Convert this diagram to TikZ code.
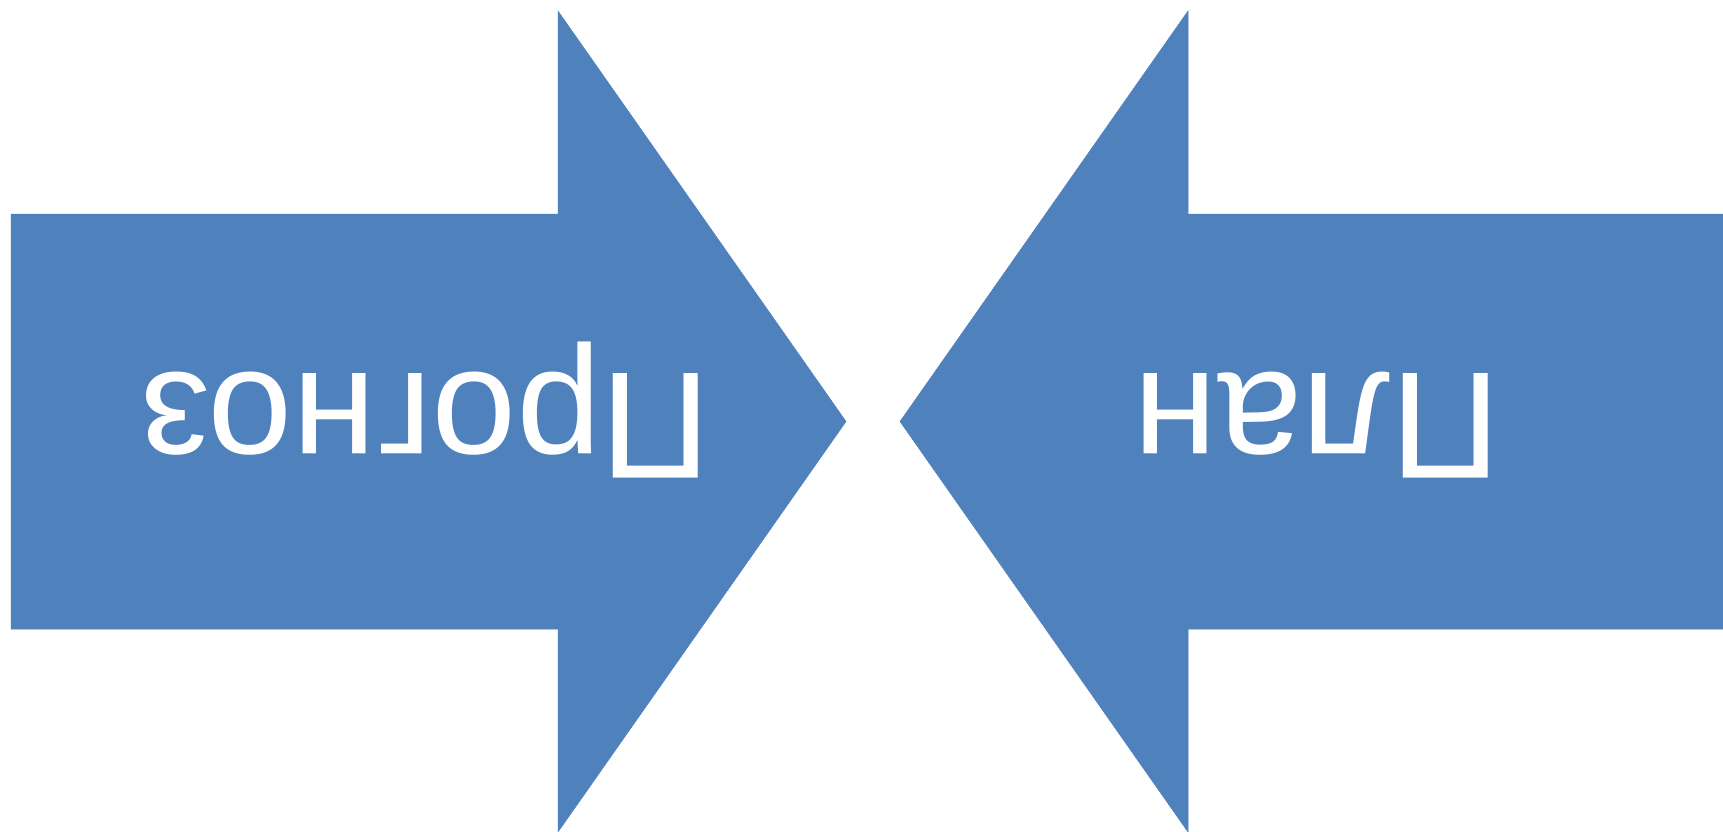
\documentclass[tikz,border=0pt]{standalone}
\usepackage{fontspec}
\setmainfont{Liberation Sans}
\definecolor{arrowblue}{HTML}{4F81BD}
\tikzset{
  arrowshape/.style={fill=arrowblue, draw=arrowblue, line width=0.5pt},
  arrowlabel/.style={text=white, rotate=180, anchor=base, inner sep=0pt,
    font=\fontsize{152}{160}\selectfont}
}
\begin{document}
\begin{tikzpicture}[x=1pt,y=-1pt]
\useasboundingbox (0,0) rectangle (1723,832);
% left arrow (pointing right)
\fill[arrowshape] (11,214) -- (558,214) -- (558,11) -- (846,421.5) -- (558,832) -- (558,629) -- (11,629) -- cycle;
% right arrow (pointing left)
\fill[arrowshape] (1723,214) -- (1188,214) -- (1188,11) -- (900,421.5) -- (1188,832) -- (1188,629) -- (1723,629) -- cycle;
\node[arrowlabel] (forecast) at (425.5,373) {Прогноз};
\node[arrowlabel] (plan) at (1317,373) {План};
\end{tikzpicture}
\end{document}
